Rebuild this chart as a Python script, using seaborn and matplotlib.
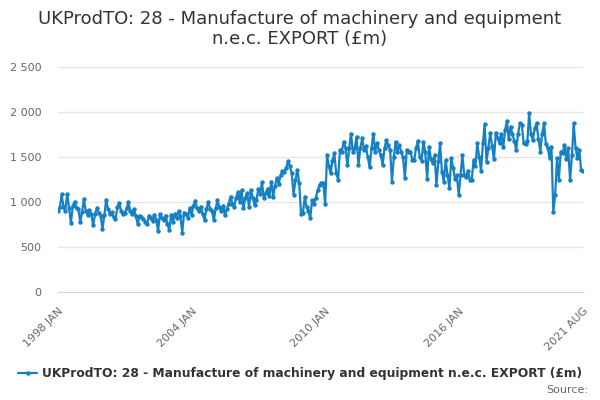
import pandas as pd
import matplotlib.pyplot as plt
import seaborn as sns

# Monatswerte (£m)
y1998 = [905, 940, 1085, 950, 905, 1090, 935, 770, 960, 1005, 930, 920]
y1999 = [780, 890, 1035, 900, 860, 910, 870, 740, 870, 930, 880, 850]
y2000 = [700, 860, 1025, 920, 870, 890, 830, 810, 940, 990, 900, 870]
y2001 = [880, 930, 1000, 900, 870, 920, 840, 755, 850, 835, 810, 780]
y2002 = [760, 850, 820, 790, 860, 800, 680, 870, 820, 800, 850, 760]
y2003 = [690, 860, 780, 870, 820, 900, 850, 660, 880, 870, 820, 930]
y2004 = [860, 960, 1015, 930, 900, 950, 870, 800, 920, 1000, 920, 900]
y2005 = [800, 930, 1020, 940, 900, 960, 855, 920, 980, 1060, 980, 950]
y2006 = [1050, 1110, 1000, 1130, 930, 1050, 1100, 945, 1130, 1050, 966, 1020]
y2007 = [1150, 1090, 1220, 1040, 1100, 1150, 1070, 1225, 1060, 1180, 1265, 1200]
y2008 = [1300, 1340, 1330, 1380, 1450, 1400, 1320, 1080, 1250, 1355, 1210, 870]
y2009 = [880, 1060, 950, 900, 820, 1020, 980, 1050, 1130, 1190, 1215, 1210]
y2010 = [980, 1520, 1400, 1320, 1460, 1540, 1320, 1250, 1580, 1560, 1670, 1600]
y2011 = [1410, 1600, 1760, 1550, 1600, 1725, 1410, 1600, 1707, 1580, 1620, 1500]
y2012 = [1385, 1600, 1760, 1560, 1650, 1580, 1520, 1410, 1600, 1690, 1630, 1580]
y2013 = [1226, 1500, 1670, 1560, 1630, 1560, 1500, 1263, 1580, 1560, 1560, 1470]
y2014 = [1470, 1600, 1680, 1500, 1460, 1670, 1550, 1252, 1615, 1480, 1430, 1520]
y2015 = [1190, 1450, 1650, 1330, 1226, 1467, 1300, 1152, 1485, 1380, 1260, 1300]
y2016 = [1078, 1300, 1520, 1300, 1280, 1350, 1250, 1244, 1467, 1400, 1650, 1500]
y2017 = [1348, 1650, 1866, 1448, 1600, 1770, 1620, 1474, 1770, 1707, 1650, 1760]
y2018 = [1615, 1800, 1900, 1700, 1837, 1750, 1680, 1578, 1760, 1874, 1860, 1652]
y2019 = [1640, 1680, 1985, 1750, 1689, 1820, 1874, 1700, 1560, 1760, 1874, 1640]
y2020 = [1600, 1485, 1615, 889, 1078, 1485, 1250, 1560, 1540, 1633, 1480, 1600]
y2021 = [1244, 1520, 1874, 1600, 1485, 1578, 1355, 1340]

values = (y1998 + y1999 + y2000 + y2001 + y2002 + y2003 + y2004 + y2005
          + y2006 + y2007 + y2008 + y2009 + y2010 + y2011 + y2012 + y2013
          + y2014 + y2015 + y2016 + y2017 + y2018 + y2019 + y2020 + y2021)
dates = pd.date_range("1998-01-01", periods=len(values), freq="MS")
series_name = "UKProdTO: 28 - Manufacture of machinery and equipment n.e.c. EXPORT (£m)"

df = pd.DataFrame({"Datum": dates, "Wert": values})

sns.set_style("white")
plt.rcParams['font.family'] = ['DejaVu Sans']

fig = plt.figure(figsize=(6, 4), dpi=100)
ax = fig.add_axes([58 / 600, 1 - 292 / 400, 525 / 600, 225 / 400])

sns.lineplot(data=df, x="Datum", y="Wert", ax=ax, color="#1680c4", linewidth=1.6,
             marker="o", markersize=3.2, markeredgewidth=0, label=series_name)

ax.set_xlim(dates[0], dates[-1])
ax.set_ylim(0, 2500)
ax.set_yticks([0, 500, 1000, 1500, 2000, 2500])
ax.set_yticklabels(["0", "500", "1 000", "1 500", "2 000", "2 500"])
ax.grid(axis="y", color="#e6e6e6", linewidth=1)
ax.set_axisbelow(True)
ax.tick_params(axis="y", length=0, pad=12, labelsize=8, labelcolor="#666666")

# Ticks alle 18 Monate, Beschriftung alle 6 Jahre + letzter Monat
tick_idx = list(range(0, len(values) - 1, 18)) + [len(values) - 1]
ax.set_xticks(dates[tick_idx])
labels = []
for i in tick_idx:
    if i % 72 == 0 or i == len(values) - 1:
        labels.append(dates[i].strftime("%Y %b").upper())
    else:
        labels.append("")
ax.set_xticklabels(labels, rotation=45, ha="right", rotation_mode="anchor")
ax.tick_params(axis="x", length=7, color="#ccd6eb", width=1, labelsize=8,
               labelcolor="#666666", pad=3)

for s in ["top", "right", "left"]:
    ax.spines[s].set_visible(False)
ax.spines["bottom"].set_color("#ccd6eb")
ax.set_xlabel("")
ax.set_ylabel("")

fig.text(0.5, 1 - 29 / 400, "UKProdTO: 28 - Manufacture of machinery and equipment\nn.e.c. EXPORT (£m)",
         ha="center", va="center", fontsize=13, color="#333333", linespacing=1.1)

leg = ax.legend(loc="center", bbox_to_anchor=(0.5, 1 - 374 / 400), bbox_transform=fig.transFigure,
                frameon=False, handlelength=1.6, handletextpad=0.4, fontsize=8.8)
for t in leg.get_texts():
    t.set_fontweight("bold")
    t.set_color("#333333")

fig.text(588 / 600, 1 - 390 / 400, "Source:", ha="right", va="center", fontsize=8, color="#666666")

plt.savefig("out.png")
plt.close()
